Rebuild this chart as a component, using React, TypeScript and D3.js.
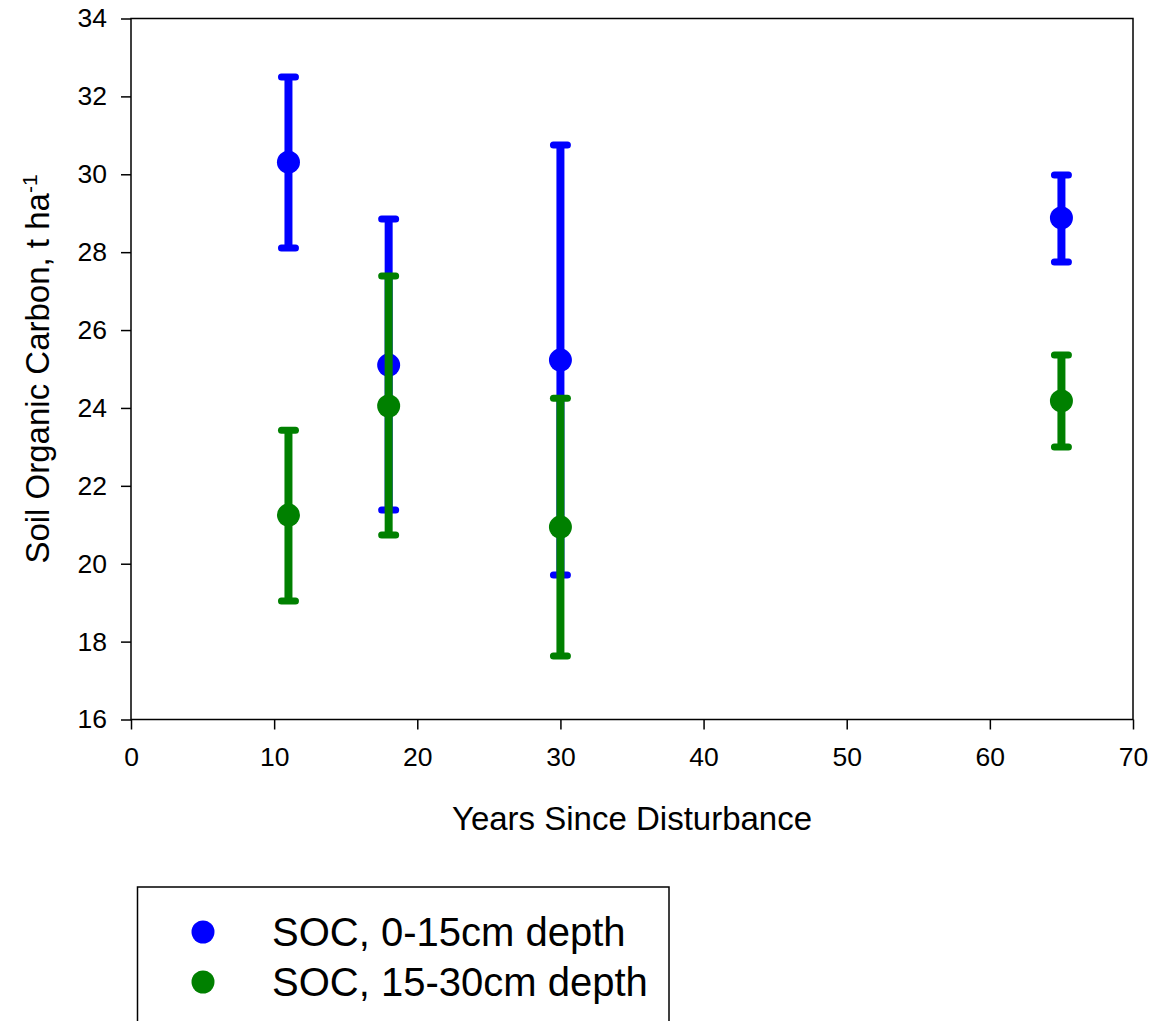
import * as d3 from "d3";
import { useEffect, useRef } from "react";

// years since disturbance
const years = [11, 18, 30, 65];

// SOC 0-15cm
const shallowMean = [30.31, 25.1, 25.23, 28.88];
const shallowUpper = [32.5, 28.85, 30.75, 29.98];
const shallowLower = [28.11, 21.38, 19.71, 27.75];

// SOC 15-30cm
const deepMean = [21.25, 24.05, 20.94, 24.18];
const deepUpper = [23.43, 27.39, 24.25, 25.36];
const deepLower = [19.04, 20.74, 17.63, 23.0];

const xTicks = [0, 10, 20, 30, 40, 50, 60, 70];
const yTicks = [16, 18, 20, 22, 24, 26, 28, 30, 32, 34];

const seriesNames = ["SOC, 0-15cm depth", "SOC, 15-30cm depth"];
const seriesColors = ["#0000ff", "#008000"];

function App() {
  const ref = useRef(null);
  const width = 1156;
  const height = 1021;

  useEffect(() => {
    const svg = d3.select(ref.current);
    svg.selectAll("*").remove();

    const margin = { top: 18.5, right: 23, bottom: 301.5, left: 131 };
    const x = d3
      .scaleLinear()
      .domain([0, 70])
      .range([margin.left, width - margin.right]);
    const y = d3
      .scaleLinear()
      .domain([16, 34])
      .range([height - margin.bottom, margin.top]);

    const font = "'Liberation Sans', Arial, sans-serif";

    // frame
    svg
      .append("rect")
      .attr("x", x(0))
      .attr("y", y(34))
      .attr("width", x(70) - x(0))
      .attr("height", y(16) - y(34))
      .attr("fill", "none")
      .attr("stroke", "#000")
      .attr("stroke-width", 1.5);

    const yAxis = svg
      .append("g")
      .attr("transform", `translate(${x(0)},0)`)
      .call(d3.axisLeft(y).tickValues(yTicks).tickSize(10).tickPadding(14).tickFormat(d3.format("d")));
    yAxis.select(".domain").remove();
    yAxis.selectAll("line").attr("stroke-width", 1.5);
    yAxis.selectAll("text").attr("font-size", 26.5).attr("font-family", font).attr("fill", "#000");

    const xAxis = svg
      .append("g")
      .attr("transform", `translate(0,${y(16)})`)
      .call(d3.axisBottom(x).tickValues(xTicks).tickSize(10).tickPadding(18).tickFormat(d3.format("d")));
    xAxis.select(".domain").remove();
    xAxis.selectAll("line").attr("stroke-width", 1.5);
    xAxis.selectAll("text").attr("font-size", 26.5).attr("font-family", font).attr("fill", "#000");

    // axis titles
    svg
      .append("text")
      .attr("x", (x(0) + x(70)) / 2)
      .attr("y", 830)
      .attr("text-anchor", "middle")
      .attr("font-size", 33)
      .attr("font-family", font)
      .text("Years Since Disturbance");

    const yt = svg
      .append("text")
      .attr("transform", `translate(49,${(y(16) + y(34)) / 2}) rotate(-90)`)
      .attr("text-anchor", "middle")
      .attr("font-size", 33)
      .attr("font-family", font);
    yt.append("tspan").text("Soil Organic Carbon, t ha");
    yt.append("tspan").attr("dy", -12).attr("font-size", 21).text("-1");

    const series = [
      { mean: shallowMean, upper: shallowUpper, lower: shallowLower },
      { mean: deepMean, upper: deepUpper, lower: deepLower },
    ];

    series.forEach((s, si) => {
      const g = svg.append("g").attr("stroke", seriesColors[si]).attr("fill", seriesColors[si]);
      years.forEach((yr, i) => {
        const cx = x(yr);
        g.append("line")
          .attr("x1", cx)
          .attr("x2", cx)
          .attr("y1", y(s.upper[i]))
          .attr("y2", y(s.lower[i]))
          .attr("stroke-width", 8);
        [s.upper[i], s.lower[i]].forEach((v) => {
          g.append("line")
            .attr("x1", cx - 7)
            .attr("x2", cx + 7)
            .attr("y1", y(v))
            .attr("y2", y(v))
            .attr("stroke-width", 7)
            .attr("stroke-linecap", "round");
        });
        g.append("circle")
          .attr("cx", cx)
          .attr("cy", y(s.mean[i]))
          .attr("r", 11.5)
          .attr("stroke", "none");
      });
    });

    // legend
    svg
      .append("rect")
      .attr("x", 137.5)
      .attr("y", 887)
      .attr("width", 531.5)
      .attr("height", 200)
      .attr("fill", "none")
      .attr("stroke", "#000")
      .attr("stroke-width", 1.5);

    seriesNames.forEach((name, i) => {
      const ly = 932 + i * 50;
      svg
        .append("circle")
        .attr("cx", 203)
        .attr("cy", ly)
        .attr("r", 11.5)
        .attr("fill", seriesColors[i]);
      svg
        .append("text")
        .attr("x", 272)
        .attr("y", ly + 14)
        .attr("font-size", 40)
        .attr("font-family", font)
        .text(name);
    });
  }, []);

  return (
    <svg
      ref={ref}
      width={width}
      height={height}
      style={{ position: "absolute", top: 0, left: 0, background: "#fff" }}
    />
  );
}

export default App;
